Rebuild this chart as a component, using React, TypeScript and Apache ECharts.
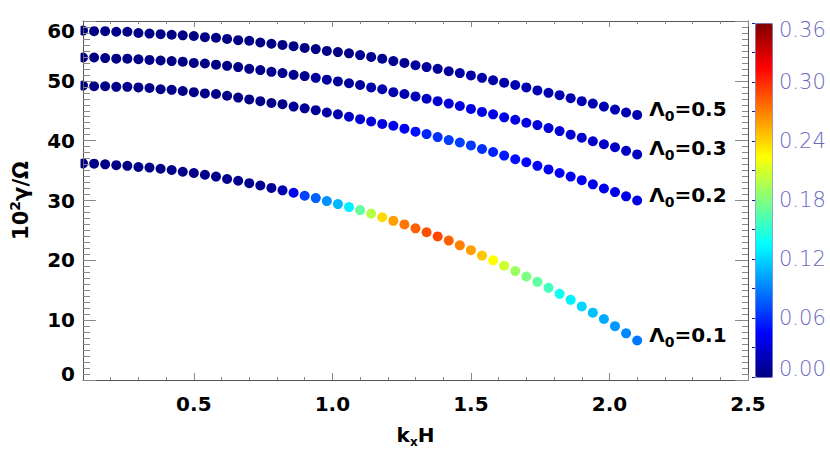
import React, { useEffect, useRef } from "react";
import * as echarts from "echarts";

// k_x H grid (51 points per curve)
const kxH = [
  0.10, 0.14, 0.18, 0.22, 0.26, 0.30, 0.34, 0.38, 0.42, 0.46,
  0.50, 0.54, 0.58, 0.62, 0.66, 0.70, 0.74, 0.78, 0.82, 0.86,
  0.90, 0.94, 0.98, 1.02, 1.06, 1.10, 1.14, 1.18, 1.22, 1.26,
  1.30, 1.34, 1.38, 1.42, 1.46, 1.50, 1.54, 1.58, 1.62, 1.66,
  1.70, 1.74, 1.78, 1.82, 1.86, 1.90, 1.94, 1.98, 2.02, 2.06,
  2.10,
];

// 10^2 gamma / Omega
const gammaL01 = [
  36.2, 36.15, 36.05, 35.9, 35.8, 35.6, 35.5, 35.3, 35.1, 34.8,
  34.6, 34.3, 34.0, 33.6, 33.3, 32.9, 32.5, 32.1, 31.7, 31.3,
  30.8, 30.4, 29.9, 29.4, 28.9, 28.4, 27.8, 27.2, 26.6, 26.0,
  25.35, 24.7, 24.0, 23.3, 22.5, 21.7, 20.8, 20.0, 19.1, 18.2,
  17.3, 16.4, 15.4, 14.4, 13.4, 12.3, 11.25, 10.2, 9.0, 7.8,
  6.6,
];
const gammaL02 = [
  49.2, 49.1, 49.1, 49.0, 49.0, 48.9, 48.8, 48.6, 48.5, 48.3,
  48.1, 47.9, 47.8, 47.5, 47.2, 46.9, 46.6, 46.3, 46.1, 45.7,
  45.4, 45.1, 44.7, 44.4, 44.0, 43.6, 43.2, 42.8, 42.5, 42.0,
  41.5, 41.1, 40.6, 40.1, 39.7, 39.2, 38.6, 38.1, 37.5, 36.9,
  36.4, 35.8, 35.2, 34.6, 34.0, 33.4, 32.7, 32.0, 31.4, 30.7,
  30.0,
];
const gammaL03 = [
  53.9, 53.9, 53.8, 53.7, 53.7, 53.6, 53.5, 53.4, 53.3, 53.2,
  53.0, 52.9, 52.7, 52.5, 52.3, 52.0, 51.8, 51.5, 51.3, 51.0,
  50.8, 50.5, 50.2, 49.9, 49.6, 49.3, 48.9, 48.6, 48.1, 47.8,
  47.4, 47.0, 46.6, 46.2, 45.8, 45.3, 44.8, 44.4, 43.9, 43.5,
  43.0, 42.6, 42.1, 41.6, 41.0, 40.5, 39.9, 39.4, 38.9, 38.3,
  37.7,
];
const gammaL05 = [
  58.4, 58.3, 58.3, 58.2, 58.2, 58.0, 57.9, 57.8, 57.7, 57.6,
  57.5, 57.3, 57.2, 57.0, 56.8, 56.7, 56.4, 56.2, 56.0, 55.8,
  55.5, 55.3, 55.0, 54.8, 54.6, 54.3, 54.0, 53.7, 53.3, 53.0,
  52.6, 52.3, 52.0, 51.6, 51.3, 50.9, 50.5, 50.1, 49.7, 49.3,
  48.9, 48.4, 48.0, 47.6, 47.1, 46.6, 46.2, 45.7, 45.2, 44.7,
  44.3,
];

// colour-coded quantity (colour bar 0.00 - 0.36)
const colorL01 = [
  0.002, 0.002, 0.002, 0.002, 0.002, 0.002, 0.002, 0.002, 0.003, 0.003,
  0.003, 0.003, 0.004, 0.004, 0.005, 0.005, 0.006, 0.008, 0.017, 0.040,
  0.0675, 0.079, 0.096, 0.110, 0.130, 0.169, 0.200, 0.238, 0.259, 0.273,
  0.281, 0.287, 0.290, 0.281, 0.270, 0.259, 0.245, 0.225, 0.208, 0.190,
  0.180, 0.169, 0.1575, 0.140, 0.130, 0.121, 0.1125, 0.105, 0.099, 0.093,
  0.087,
];
const colorL02 = [
  0.003, 0.003, 0.003, 0.003, 0.003, 0.003, 0.003, 0.003, 0.003, 0.003,
  0.003, 0.003, 0.003, 0.003, 0.003, 0.003, 0.003, 0.003, 0.003, 0.008,
  0.008, 0.008, 0.012, 0.017, 0.024, 0.028, 0.031, 0.034, 0.039, 0.042,
  0.050, 0.057, 0.062, 0.066, 0.067, 0.065, 0.061, 0.057, 0.053, 0.049,
  0.046, 0.044, 0.043, 0.042, 0.041, 0.040, 0.039, 0.038, 0.037, 0.036,
  0.035,
];
const colorL03 = [
  0.002, 0.002, 0.002, 0.002, 0.002, 0.002, 0.002, 0.002, 0.002, 0.002,
  0.002, 0.002, 0.002, 0.002, 0.002, 0.002, 0.005, 0.005, 0.005, 0.005,
  0.005, 0.010, 0.010, 0.010, 0.010, 0.010, 0.016, 0.016, 0.016, 0.016,
  0.020, 0.024, 0.028, 0.031, 0.034, 0.036, 0.037, 0.037, 0.036, 0.035,
  0.034, 0.033, 0.031, 0.030, 0.029, 0.028, 0.027, 0.026, 0.025, 0.024,
  0.023,
];
const colorL05 = [
  0.002, 0.002, 0.002, 0.002, 0.002, 0.002, 0.002, 0.002, 0.002, 0.002,
  0.002, 0.002, 0.002, 0.002, 0.002, 0.002, 0.002, 0.002, 0.002, 0.002,
  0.002, 0.002, 0.002, 0.002, 0.002, 0.006, 0.006, 0.006, 0.006, 0.006,
  0.010, 0.010, 0.010, 0.010, 0.014, 0.014, 0.014, 0.014, 0.014, 0.017,
  0.017, 0.017, 0.017, 0.017, 0.017, 0.018, 0.018, 0.018, 0.018, 0.018,
  0.018,
];

const lambdaLabels = ["0.1", "0.2", "0.3", "0.5"];
const gammaSeries = [gammaL01, gammaL02, gammaL03, gammaL05];
const colorSeries = [colorL01, colorL02, colorL03, colorL05];

const xTickLabels = [0.5, 1.0, 1.5, 2.0, 2.5];
const cbarMin = 0;
const cbarMax = 0.36;
// jet colour table at 1/8 steps
const jetColors = [
  "#000080", "#0000ff", "#0080ff", "#00ffff", "#80ff80",
  "#ffff00", "#ff8000", "#ff0000", "#800000",
];

const FONT = "DejaVu Sans";

export default function App() {
  const ref = useRef<HTMLDivElement>(null);

  useEffect(() => {
    if (!ref.current) return;
    const chart = echarts.init(ref.current, undefined, { renderer: "svg" });

    const axisLineStyle = { color: "#555", width: 1 };
    const tickStyle = { color: "#888", width: 1 };

    const series: any[] = gammaSeries.map((g, si) => ({
      type: "scatter",
      xAxisIndex: 0,
      yAxisIndex: 0,
      symbol: "circle",
      symbolSize: 10,
      clip: false,
      z: 2,
      itemStyle: { opacity: 1 },
      data: kxH.map((x, i) => {
        const v = [x, g[i], colorSeries[si][i]];
        if (i === kxH.length - 1) {
          return {
            value: v,
            label: {
              show: true,
              position: "right",
              distance: 7,
              offset: [0, -6],
              formatter: "{a|Λ}{s|0}{a|=" + lambdaLabels[si] + "}",
              rich: {
                a: { fontSize: 20, fontWeight: "bold", fontFamily: FONT, color: "#000", lineHeight: 28 },
                s: { fontSize: 14, fontWeight: "bold", fontFamily: FONT, color: "#000", lineHeight: 14, verticalAlign: "bottom" },
              },
            },
          };
        }
        return { value: v };
      }),
    }));

    series.push({
      type: "scatter",
      xAxisIndex: 4,
      yAxisIndex: 2,
      data: [],
      silent: true,
    });

    const yLabelRich = {
      n: { fontSize: 20, fontWeight: "bold", fontFamily: FONT, color: "#000" },
      lo: { fontSize: 20, fontWeight: "bold", fontFamily: FONT, color: "#000", padding: [0, 0, 12, 0] },
      hi: { fontSize: 20, fontWeight: "bold", fontFamily: FONT, color: "#000", padding: [20, 0, 0, 0] },
    };
    const cbRich = {
      n: { fontSize: 21, fontWeight: 200, fontFamily: FONT, color: "#6a6abf" },
      lo: { fontSize: 21, fontWeight: 200, fontFamily: FONT, color: "#6a6abf", padding: [0, 0, 16, 0] },
      hi: { fontSize: 21, fontWeight: 200, fontFamily: FONT, color: "#6a6abf", padding: [14, 0, 0, 0] },
    };

    const option: any = {
      animation: false,
      backgroundColor: "#fff",
      grid: [
        { left: 81, top: 21, width: 667, height: 359 },
        { left: 755, top: 23, width: 17, height: 354 },
      ],
      // white mask so the dots are clipped at the left frame, as in the original plot
      graphic: [
        {
          type: "rect",
          shape: { x: 74, y: 22, width: 6.5, height: 357 },
          style: { fill: "#fff" },
          z: 10,
          silent: true,
        },
      ],
      xAxis: [
        {
          gridIndex: 0,
          type: "value",
          position: "bottom",
          min: 0.1,
          max: 2.5,
          interval: 0.1,
          axisLine: { show: true, lineStyle: axisLineStyle },
          axisTick: { show: true, inside: true, length: 3, lineStyle: tickStyle },
          splitLine: { show: false },
          axisLabel: {
            show: true,
            margin: 14,
            fontSize: 20,
            fontWeight: "bold",
            fontFamily: FONT,
            color: "#000",
            showMinLabel: true,
            showMaxLabel: true,
            formatter: (v: number) => {
              const hit = xTickLabels.find((t) => Math.abs(t - v) < 1e-6);
              return hit !== undefined ? hit.toFixed(1) : "";
            },
          },
          name: "{a|k}{s|x}{a|H}",
          nameLocation: "middle",
          nameGap: 42,
          nameTextStyle: {
            rich: {
              a: { fontSize: 20, fontWeight: "bold", fontFamily: FONT, color: "#000", lineHeight: 26 },
              s: { fontSize: 12, fontWeight: "bold", fontFamily: FONT, color: "#000", lineHeight: 10, verticalAlign: "bottom" },
            },
          },
        },
        {
          gridIndex: 0,
          type: "value",
          position: "bottom",
          min: 0.1,
          max: 2.5,
          axisLine: { show: false },
          axisTick: { show: true, inside: true, length: 7, lineStyle: tickStyle, customValues: xTickLabels },
          axisLabel: { show: false },
          splitLine: { show: false },
        },
        {
          gridIndex: 0,
          type: "value",
          position: "top",
          min: 0.1,
          max: 2.5,
          interval: 0.1,
          axisLine: { show: true, lineStyle: axisLineStyle },
          axisTick: { show: true, inside: true, length: 3, lineStyle: tickStyle },
          axisLabel: { show: false },
          splitLine: { show: false },
        },
        {
          gridIndex: 0,
          type: "value",
          position: "top",
          min: 0.1,
          max: 2.5,
          axisLine: { show: false },
          axisTick: { show: true, inside: true, length: 6, lineStyle: tickStyle, customValues: xTickLabels },
          axisLabel: { show: false },
          splitLine: { show: false },
        },
        {
          gridIndex: 1,
          type: "value",
          min: 0,
          max: 1,
          show: false,
        },
      ],
      yAxis: [
        {
          gridIndex: 0,
          type: "value",
          position: "left",
          min: 0,
          max: 60,
          interval: 10,
          z: 12,
          axisLine: { show: true, lineStyle: axisLineStyle },
          axisTick: { show: true, inside: true, length: 13, lineStyle: tickStyle },
          minorTick: { show: true, splitNumber: 10, length: 7, lineStyle: tickStyle },
          splitLine: { show: false },
          minorSplitLine: { show: false },
          axisLabel: {
            show: true,
            margin: 8,
            showMinLabel: true,
            showMaxLabel: true,
            formatter: (v: number) => (v === 0 ? "{lo|0}" : v === 60 ? "{hi|60}" : "{n|" + v + "}"),
            rich: yLabelRich,
          },
          name: "{a|10}{p|2}{a|γ/Ω}",
          nameLocation: "middle",
          nameRotate: 90,
          nameGap: 49,
          nameTextStyle: {
            rich: {
              a: { fontSize: 21, fontWeight: "bold", fontFamily: FONT, color: "#000", lineHeight: 26 },
              p: { fontSize: 14, fontWeight: "bold", fontFamily: FONT, color: "#000", lineHeight: 14, verticalAlign: "top" },
            },
          },
        },
        {
          gridIndex: 0,
          type: "value",
          position: "right",
          min: 0,
          max: 60,
          interval: 10,
          axisLine: { show: true, lineStyle: axisLineStyle },
          axisTick: { show: true, inside: true, length: 13, lineStyle: tickStyle },
          minorTick: { show: true, splitNumber: 10, length: 6, lineStyle: tickStyle },
          splitLine: { show: false },
          axisLabel: { show: false },
        },
        {
          gridIndex: 1,
          type: "value",
          position: "right",
          min: cbarMin,
          max: cbarMax,
          interval: 0.06,
          axisLine: { show: false },
          axisTick: { show: true, inside: true, length: 3, lineStyle: { color: "#1a1a9a", width: 1 } },
          minorTick: { show: true, splitNumber: 2, length: 3, lineStyle: { color: "#1a1a9a", width: 1 } },
          splitLine: { show: false },
          axisLabel: {
            show: true,
            margin: 7,
            showMinLabel: true,
            showMaxLabel: true,
            formatter: (v: number) =>
              v < 1e-6 ? "{lo|0.00}" : v > cbarMax - 1e-6 ? "{hi|" + v.toFixed(2) + "}" : "{n|" + v.toFixed(2) + "}",
            rich: cbRich,
          },
        },
      ],
      visualMap: {
        type: "continuous",
        min: cbarMin,
        max: cbarMax,
        dimension: 2,
        seriesIndex: [0, 1, 2, 3],
        orient: "vertical",
        left: 755,
        top: 23,
        itemWidth: 17,
        itemHeight: 354,
        padding: 0,
        calculable: false,
        hoverLink: false,
        borderColor: "#7f7fd0",
        borderWidth: 1,
        inRange: { color: jetColors },
      },
      series,
    };

    chart.setOption(option);
    return () => chart.dispose();
  }, []);

  return (
    <div
      ref={ref}
      style={{ position: "fixed", left: 0, top: 0, width: 830, height: 467, background: "#fff" }}
    />
  );
}
